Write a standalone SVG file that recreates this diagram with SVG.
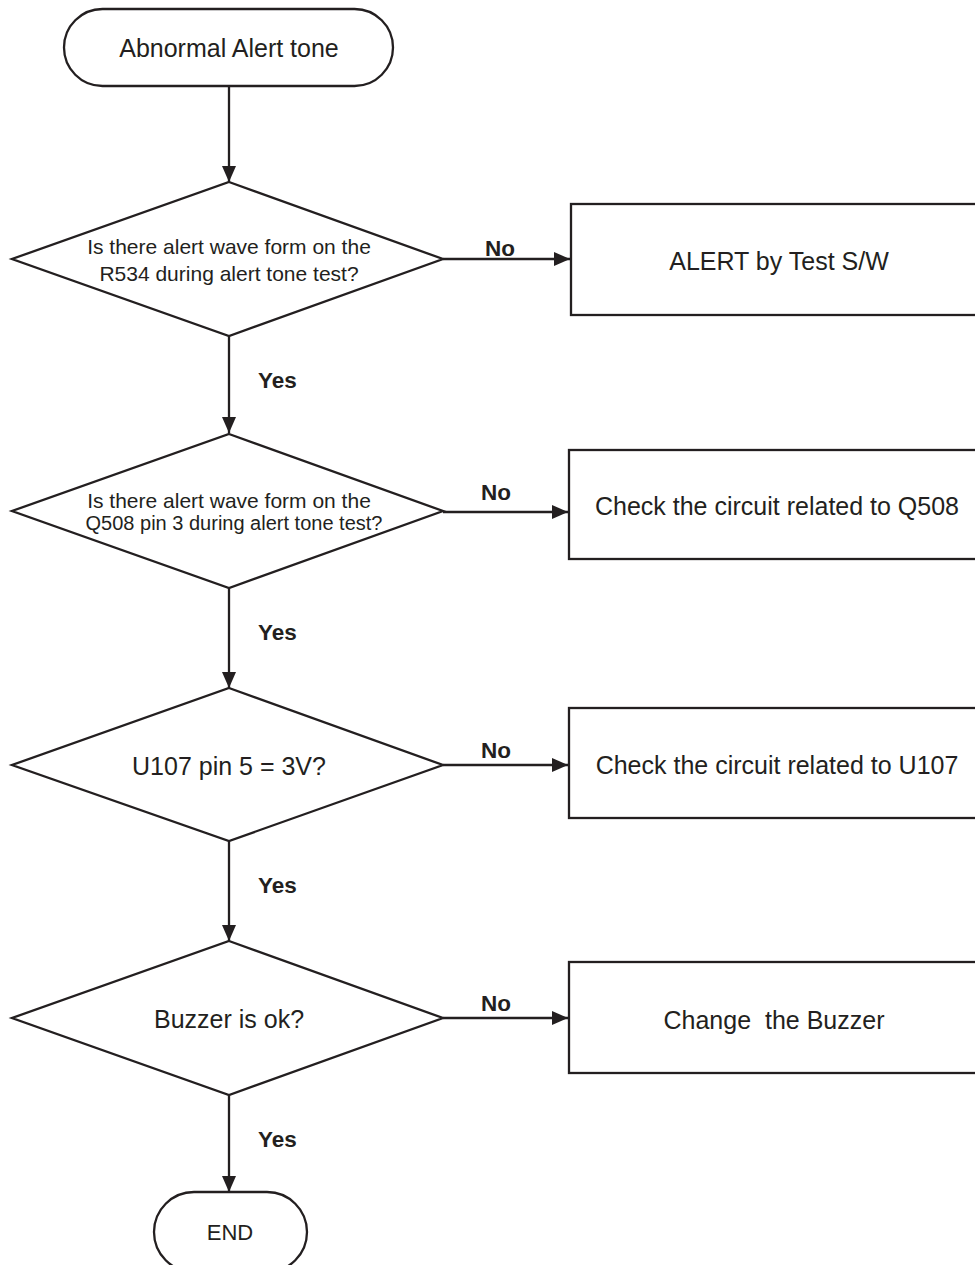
<svg xmlns="http://www.w3.org/2000/svg" width="975" height="1265" viewBox="0 0 975 1265">
<style>
.s{fill:#fff;stroke:#231f20;stroke-width:2.3}
.c{stroke:#231f20;stroke-width:2.3;fill:none}
.t{font-family:"Liberation Sans",Arial,sans-serif;fill:#231f20;text-anchor:middle;white-space:pre}
.l{font-family:"Liberation Sans",Arial,sans-serif;fill:#231f20;font-weight:bold;font-size:22.5px}
</style>
<defs>
<marker id="a" markerWidth="16" markerHeight="14" refX="16" refY="7" orient="auto" markerUnits="userSpaceOnUse">
<path d="M0,0 L16,7 L0,14 Z" fill="#231f20"/>
</marker>
</defs>
<rect width="975" height="1265" fill="#fff"/>
<g id="connectors">
<line class="c" x1="229" y1="86" x2="229" y2="182" marker-end="url(#a)"/>
<line class="c" x1="229" y1="336" x2="229" y2="433" marker-end="url(#a)"/>
<line class="c" x1="229" y1="588" x2="229" y2="688" marker-end="url(#a)"/>
<line class="c" x1="229" y1="841" x2="229" y2="941" marker-end="url(#a)"/>
<line class="c" x1="229" y1="1095" x2="229" y2="1192" marker-end="url(#a)"/>
<line class="c" x1="443" y1="259" x2="570" y2="259" marker-end="url(#a)"/>
<line class="c" x1="443" y1="512" x2="568" y2="512" marker-end="url(#a)"/>
<line class="c" x1="443" y1="765" x2="568" y2="765" marker-end="url(#a)"/>
<line class="c" x1="443" y1="1018" x2="568" y2="1018" marker-end="url(#a)"/>
<text class="l" x="485" y="256">No</text>
<text class="l" x="481" y="500">No</text>
<text class="l" x="481" y="758">No</text>
<text class="l" x="481" y="1011">No</text>
<text class="l" x="258" y="388">Yes</text>
<text class="l" x="258" y="640">Yes</text>
<text class="l" x="258" y="893">Yes</text>
<text class="l" x="258" y="1147">Yes</text>
</g>
<g id="start">
<rect class="s" x="64" y="9" width="329" height="77" rx="38.5"/>
<text class="t" x="229" y="57" font-size="25">Abnormal Alert tone</text>
</g>
<g id="d1">
<polygon class="s" points="229,182 443,259 229,336 12,259"/>
<text class="t" x="229" y="254" font-size="21">Is there alert wave form on the</text>
<text class="t" x="229" y="281" font-size="21">R534 during alert tone test?</text>
</g>
<g id="b1">
<rect class="s" x="571" y="204" width="410" height="111"/>
<text class="t" x="779" y="270" font-size="25">ALERT by Test S/W</text>
</g>
<g id="d2">
<polygon class="s" points="229,434 443,511 229,588 12,511"/>
<text class="t" x="229" y="508" font-size="21">Is there alert wave form on the</text>
<text class="t" x="234" y="530" font-size="20">Q508 pin 3 during alert tone test?</text>
</g>
<g id="b2">
<rect class="s" x="569" y="450" width="412" height="109"/>
<text class="t" x="777" y="515" font-size="25">Check the circuit related to Q508</text>
</g>
<g id="d3">
<polygon class="s" points="229,688 443,765 229,841 12,765"/>
<text class="t" x="229" y="775" font-size="25">U107 pin 5 = 3V?</text>
</g>
<g id="b3">
<rect class="s" x="569" y="708" width="412" height="110"/>
<text class="t" x="777" y="774" font-size="25">Check the circuit related to U107</text>
</g>
<g id="d4">
<polygon class="s" points="229,941 443,1018 229,1095 12,1018"/>
<text class="t" x="229" y="1028" font-size="25">Buzzer is ok?</text>
</g>
<g id="b4">
<rect class="s" x="569" y="962" width="412" height="111"/>
<text class="t" x="774" y="1029" font-size="25">Change  the Buzzer</text>
</g>
<g id="end">
<rect class="s" x="154" y="1192" width="153" height="80" rx="40"/>
<text class="t" x="230" y="1240" font-size="22">END</text>
</g>
</svg>
